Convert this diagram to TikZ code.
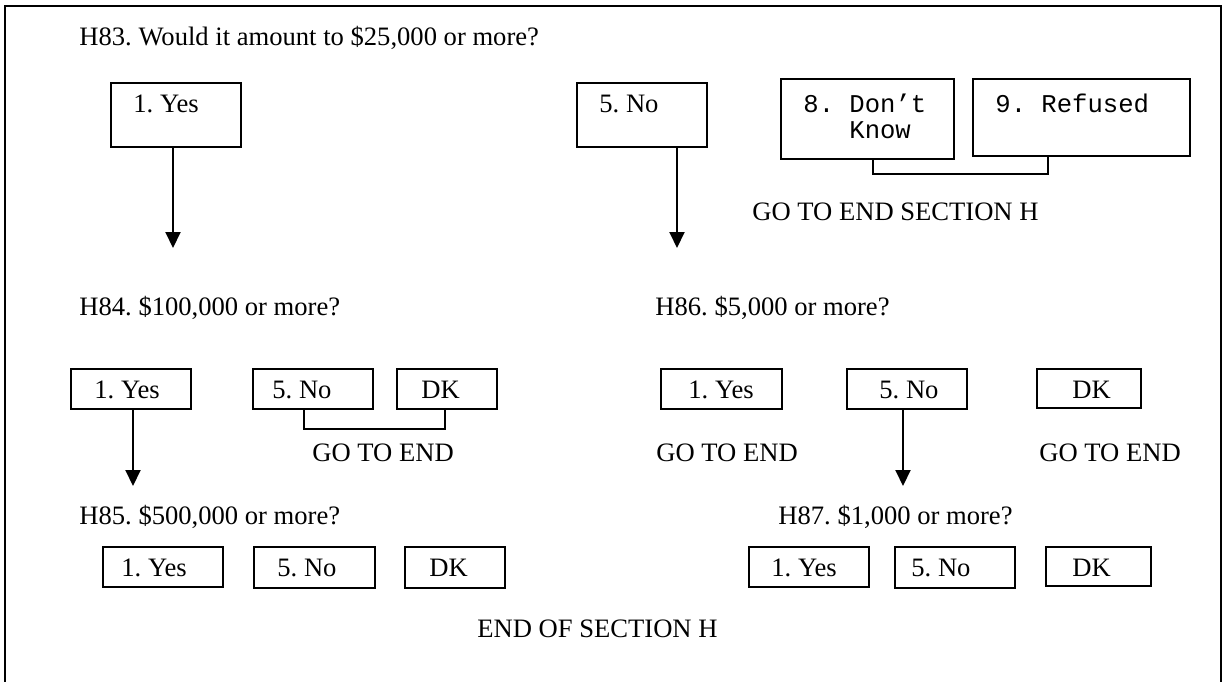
\documentclass[tikz,border=0pt]{standalone}
\usepackage{fontspec}
\setmainfont{Liberation Serif}
\newfontfamily\monofont{Liberation Mono}
\usetikzlibrary{arrows.meta,fit}
\begin{document}
\begin{tikzpicture}[x=0.5pt,y=-0.5pt,
  box/.style={draw, line width=1pt, inner sep=0pt},
  txt/.style={anchor=base west, inner sep=0pt, font=\fontsize{13.3}{16}\selectfont\frenchspacing},
  mono/.style={anchor=base west, inner sep=0pt, font=\monofont\fontsize{12.8}{13}\selectfont\frenchspacing},
  arr/.style={line width=1pt, -{Triangle[length=8pt,width=7.5pt]}},
  link/.style={line width=1pt}]
\useasboundingbox (0,0) rectangle (1222,681);
% frame
\draw[line width=1pt] (4.5,700) -- (4.5,5.5) -- (1220.5,5.5) -- (1220.5,700);

% ---- H83 ----
\node[txt] (q83) at (79,45) {H83. Would it amount to \$25,000 or more?};
\node[box, fit={(111,83) (241,147)}] (yes1) {};
\node[txt] (yes1t) at (133,112) {1. Yes};
\node[box, fit={(577,83) (707,147)}] (no1) {};
\node[txt] (no1t) at (599,112) {5. No};
\node[box, fit={(781,79) (954,159)}] (dk1) {};
\node[mono] (dk1t) at (803,112) {8. Don’t};
\node[mono] (dk1u) at (849,138) {Know};
\node[box, fit={(973,79) (1190,156)}] (ref1) {};
\node[mono] (ref1t) at (995,112) {9. Refused};
\coordinate (k1) at (873,174);
\coordinate (k2) at (1048,174);
\draw[link] (dk1.south -| k1) -- (k1) -- (k2) -- (ref1.south -| k2);
\node[txt] (go1) at (752,220) {GO TO END SECTION H};
\coordinate (t1) at (173,248);
\coordinate (t2) at (677,248);
\draw[arr] (yes1.south -| t1) -- (t1);
\draw[arr] (no1.south -| t2) -- (t2);

% ---- H84 ----
\node[txt] (q84) at (79,315) {H84. \$100,000 or more?};
\node[box, fit={(71,369) (191,409)}] (yes2) {};
\node[txt] (yes2t) at (94,398) {1. Yes};
\node[box, fit={(253,369) (373,409)}] (no2) {};
\node[txt] (no2t) at (272,398) {5. No};
\node[box, fit={(397,369) (497,409)}] (dk2) {};
\node[txt] (dk2t) at (421,398) {DK};
\coordinate (k3) at (304,429);
\coordinate (k4) at (445,429);
\draw[link] (no2.south -| k3) -- (k3) -- (k4) -- (dk2.south -| k4);
\node[txt] (go2) at (312,461) {GO TO END};
\coordinate (t3) at (133,486);
\draw[arr] (yes2.south -| t3) -- (t3);

% ---- H86 ----
\node[txt] (q86) at (655,315) {H86. \$5,000 or more?};
\node[box, fit={(661,369) (782,409)}] (yes3) {};
\node[txt] (yes3t) at (688,398) {1. Yes};
\node[box, fit={(847,369) (967,409)}] (no3) {};
\node[txt] (no3t) at (879,398) {5. No};
\node[box, fit={(1037,369) (1141,408)}] (dk3) {};
\node[txt] (dk3t) at (1072,398) {DK};
\node[txt] (go3) at (656,461) {GO TO END};
\node[txt] (go4) at (1039,461) {GO TO END};
\coordinate (t4) at (903,486);
\draw[arr] (no3.south -| t4) -- (t4);

% ---- H85 ----
\node[txt] (q85) at (79,524) {H85. \$500,000 or more?};
\node[box, fit={(103,547) (223,587)}] (yes4) {};
\node[txt] (yes4t) at (121,576) {1. Yes};
\node[box, fit={(254,547) (375,588)}] (no4) {};
\node[txt] (no4t) at (277,576) {5. No};
\node[box, fit={(405,547) (505,588)}] (dk4) {};
\node[txt] (dk4t) at (429,576) {DK};

% ---- H87 ----
\node[txt] (q87) at (778,524) {H87. \$1,000 or more?};
\node[box, fit={(749,547) (869,587)}] (yes5) {};
\node[txt] (yes5t) at (771,576) {1. Yes};
\node[box, fit={(895,547) (1015,588)}] (no5) {};
\node[txt] (no5t) at (911,576) {5. No};
\node[box, fit={(1046,547) (1151,586)}] (dk5) {};
\node[txt] (dk5t) at (1072,576) {DK};

\node[txt] (endh) at (477,637) {END OF SECTION H};
\end{tikzpicture}
\end{document}
